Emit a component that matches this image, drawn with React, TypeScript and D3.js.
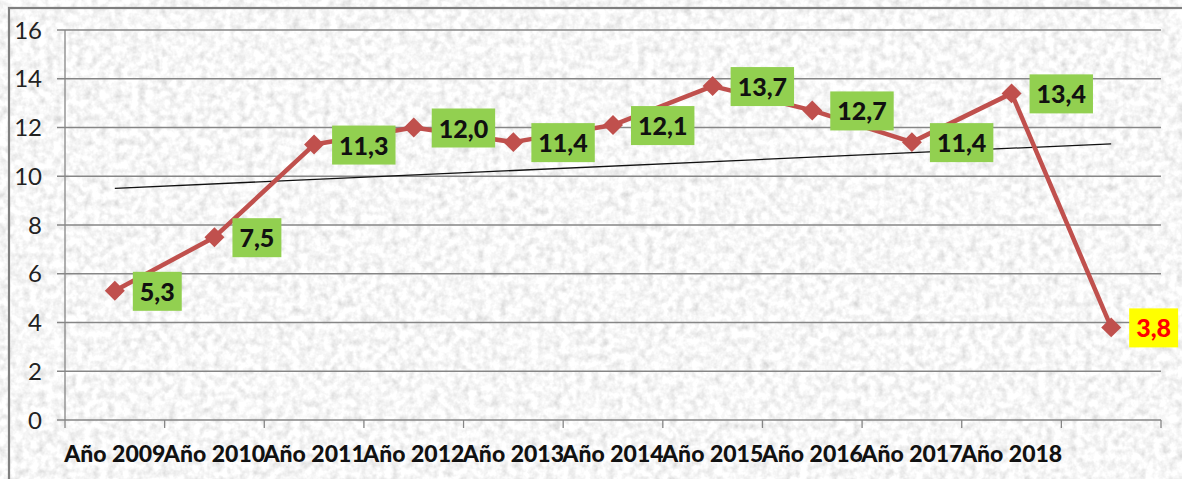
import React, { useEffect, useRef } from "react";
import * as d3 from "d3";

const categories = [
  "Año 2009",
  "Año 2010",
  "Año 2011",
  "Año 2012",
  "Año 2013",
  "Año 2014",
  "Año 2015",
  "Año 2016",
  "Año 2017",
  "Año 2018",
  "",
];
const values = [5.3, 7.5, 11.3, 12.0, 11.4, 12.1, 13.7, 12.7, 11.4, 13.4, 3.8];
const yTicks = [0, 2, 4, 6, 8, 10, 12, 14, 16];
const title = "Año 2018:";

const W = 1182;
const H = 479;
const FONT = "Lato, 'Open Sans', sans-serif";

function drawChartOn(svgEl: SVGSVGElement) {
  const svg = d3.select(svgEl);
  svg.selectAll("*").remove();

  const plot = { left: 65, right: 1161, top: 30, bottom: 420 };

  const x = d3
    .scaleBand<number>()
    .domain(d3.range(categories.length))
    .range([plot.left, plot.right]);
  const cx = (i: number) => (x(i) as number) + x.bandwidth() / 2;

  const y = d3.scaleLinear().domain([0, 16]).range([plot.bottom, plot.top]);

  // granite texture
  const defs = svg.append("defs");
  const f = defs
    .append("filter")
    .attr("id", "granite")
    .attr("filterUnits", "userSpaceOnUse")
    .attr("x", 0)
    .attr("y", 0)
    .attr("width", W)
    .attr("height", H);
  f.append("feTurbulence")
    .attr("type", "fractalNoise")
    .attr("baseFrequency", 0.13)
    .attr("numOctaves", 3)
    .attr("seed", 7)
    .attr("result", "noise");
  f.append("feColorMatrix")
    .attr("in", "noise")
    .attr("type", "saturate")
    .attr("values", 0)
    .attr("result", "gray");
  const ct = f.append("feComponentTransfer").attr("in", "gray");
  ["feFuncR", "feFuncG", "feFuncB"].forEach((fn) =>
    ct.append(fn).attr("type", "linear").attr("slope", 0.72).attr("intercept", 0.57)
  );
  ct.append("feFuncA").attr("type", "linear").attr("slope", 0).attr("intercept", 1);

  // slide background
  svg.append("rect").attr("width", W).attr("height", H).attr("fill", "#ffffff");
  svg
    .append("ellipse")
    .attr("cx", 40)
    .attr("cy", -40)
    .attr("rx", 130)
    .attr("ry", 200)
    .attr("fill", "#fbe5e3");
  svg
    .append("ellipse")
    .attr("cx", 520)
    .attr("cy", -30)
    .attr("rx", 60)
    .attr("ry", 40)
    .attr("fill", "#e6f4ea");
  svg
    .append("ellipse")
    .attr("cx", 0)
    .attr("cy", 540)
    .attr("rx", 120)
    .attr("ry", 90)
    .attr("fill", "#fdf0e2");

  svg
    .append("text")
    .attr("x", 0)
    .attr("y", 5)
    .attr("font-family", FONT)
    .attr("font-weight", "900")
    .attr("font-size", 30)
    .attr("fill", "#111")
    .text(title);

  // chart area
  svg
    .append("rect")
    .attr("x", 9)
    .attr("y", 8)
    .attr("width", W)
    .attr("height", H)
    .attr("fill", "#e8e8e8")
    .attr("filter", "url(#granite)");
  svg
    .append("rect")
    .attr("x", 9)
    .attr("y", 8)
    .attr("width", W)
    .attr("height", H)
    .attr("fill", "none")
    .attr("stroke", "#7f7f7f")
    .attr("stroke-width", 2.2);

  const g = svg.append("g");

  // gridlines
  g.selectAll("line.grid")
    .data(yTicks)
    .join("line")
    .attr("class", "grid")
    .attr("x1", plot.left - 8)
    .attr("x2", plot.right)
    .attr("y1", (d) => y(d))
    .attr("y2", (d) => y(d))
    .attr("stroke", "#868686")
    .attr("stroke-width", 1.3);

  // y axis line
  g.append("line")
    .attr("x1", plot.left)
    .attr("x2", plot.left)
    .attr("y1", plot.top)
    .attr("y2", plot.bottom)
    .attr("stroke", "#868686")
    .attr("stroke-width", 1.3);

  g.selectAll("text.ytick")
    .data(yTicks)
    .join("text")
    .attr("class", "ytick")
    .attr("x", 42)
    .attr("y", (d) => y(d))
    .attr("dy", "0.36em")
    .attr("text-anchor", "end")
    .attr("font-family", FONT)
    .attr("font-size", 24)
    .attr("fill", "#222")
    .text((d) => d);

  // x ticks at category boundaries
  const bounds = d3.range(categories.length + 1).map((i) => plot.left + i * x.bandwidth());
  g.selectAll("line.xtick")
    .data(bounds)
    .join("line")
    .attr("class", "xtick")
    .attr("x1", (d) => d)
    .attr("x2", (d) => d)
    .attr("y1", plot.bottom)
    .attr("y2", plot.bottom + 8)
    .attr("stroke", "#868686")
    .attr("stroke-width", 1.3);

  g.selectAll("text.xlab")
    .data(categories)
    .join("text")
    .attr("class", "xlab")
    .attr("x", (_, i) => cx(i))
    .attr("y", 462)
    .attr("text-anchor", "middle")
    .attr("font-family", FONT)
    .attr("font-weight", "900")
    .attr("font-size", 23)
    .attr("fill", "#111")
    .text((d) => d);

  // linear trendline (least squares over all points)
  const xs = values.map((_, i) => i);
  const mx = d3.mean(xs) as number;
  const my = d3.mean(values) as number;
  const slope =
    d3.sum(xs, (xi, k) => (xi - mx) * (values[k] - my)) / d3.sum(xs, (xi) => (xi - mx) ** 2);
  const icpt = my - slope * mx;
  const last = values.length - 1;
  g.append("line")
    .attr("x1", cx(0))
    .attr("y1", y(icpt))
    .attr("x2", cx(last))
    .attr("y2", y(icpt + slope * last))
    .attr("stroke", "#111")
    .attr("stroke-width", 1.3);

  // series line
  const line = d3
    .line<number>()
    .x((_, i) => cx(i))
    .y((d) => y(d));
  g.append("path")
    .datum(values)
    .attr("fill", "none")
    .attr("stroke", "#c0504d")
    .attr("stroke-width", 4.5)
    .attr("stroke-linejoin", "round")
    .attr("d", line);

  const marker = d3.symbol().type(d3.symbolSquare).size(200);
  g.selectAll("path.marker")
    .data(values)
    .join("path")
    .attr("class", "marker")
    .attr("transform", (d, i) => `translate(${cx(i)},${y(d)}) rotate(45)`)
    .attr("fill", "#c0504d")
    .attr("d", marker);

  // data labels
  values.forEach((v, i) => {
    const isLast = i === last;
    const lg = g.append("g");
    const bx = cx(i) + 18;
    const by = y(v);
    const rect = lg.append("rect");
    const t = lg
      .append("text")
      .attr("x", bx + 7)
      .attr("y", by + 1)
      .attr("dy", "0.36em")
      .attr("font-family", FONT)
      .attr("font-weight", "900")
      .attr("font-size", 25)
      .attr("fill", isLast ? "#ff0000" : "#111")
      .text(d3.format(".1f")(v).replace(".", ","));
    const tw = (t.node() as SVGTextElement).getComputedTextLength();
    rect
      .attr("x", bx)
      .attr("y", by - 19)
      .attr("width", tw + 14)
      .attr("height", 39)
      .attr("fill", isLast ? "#ffff00" : "#92d050");
  });
}

const App = () => {
  const svgEl = useRef<SVGSVGElement>(null);

  useEffect(() => {
    if (!svgEl.current) return;
    drawChartOn(svgEl.current);
  }, []);

  return (
    <svg
      ref={svgEl}
      width={W}
      height={H}
      style={{ position: "fixed", left: 0, top: 0, display: "block" }}
    ></svg>
  );
};

export default App;
